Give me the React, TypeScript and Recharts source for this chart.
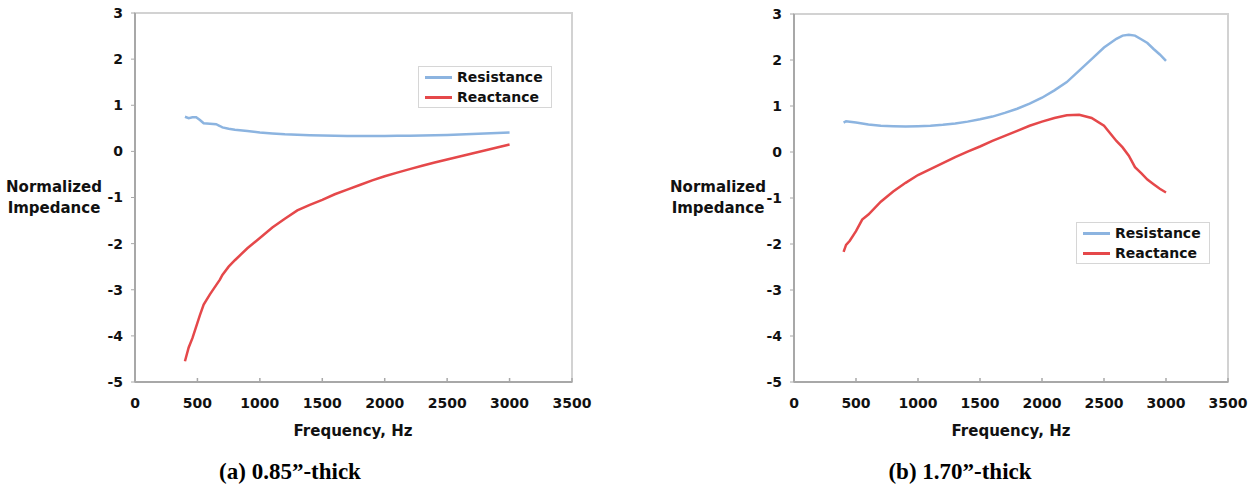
import React from "react";
import { LineChart, Line, XAxis, YAxis, Legend, ReferenceArea } from "recharts";

// (a) 0.85"-thick sample
const freqA = [400, 430, 460, 490, 520, 550, 600, 650, 680, 700, 750, 800, 900, 1000, 1100, 1200, 1300, 1400, 1500, 1600, 1700, 1800, 1900, 2000, 2100, 2200, 2300, 2400, 2500, 2600, 2700, 2800, 2900, 3000];
const resistanceA = [0.75, 0.72, 0.74, 0.74, 0.68, 0.61, 0.6, 0.59, 0.55, 0.52, 0.49, 0.47, 0.44, 0.41, 0.39, 0.37, 0.36, 0.35, 0.345, 0.34, 0.335, 0.335, 0.335, 0.335, 0.337, 0.34, 0.345, 0.35, 0.357, 0.365, 0.375, 0.385, 0.397, 0.41];
const reactanceA = [-4.55, -4.25, -4.05, -3.8, -3.55, -3.32, -3.1, -2.9, -2.78, -2.68, -2.5, -2.36, -2.1, -1.88, -1.65, -1.46, -1.28, -1.16, -1.05, -0.93, -0.83, -0.73, -0.63, -0.54, -0.46, -0.385, -0.31, -0.24, -0.175, -0.11, -0.045, 0.02, 0.085, 0.15];

// (b) 1.70"-thick sample
const freqB = [400, 420, 450, 500, 550, 600, 700, 800, 900, 1000, 1100, 1200, 1300, 1400, 1500, 1600, 1700, 1800, 1900, 2000, 2100, 2200, 2300, 2400, 2500, 2600, 2650, 2700, 2750, 2800, 2850, 2900, 2950, 3000];
const resistanceB = [0.64, 0.67, 0.66, 0.64, 0.62, 0.6, 0.57, 0.56, 0.555, 0.56, 0.57, 0.59, 0.62, 0.66, 0.71, 0.77, 0.85, 0.94, 1.05, 1.18, 1.34, 1.52, 1.77, 2.02, 2.27, 2.46, 2.53, 2.55, 2.53, 2.45, 2.37, 2.24, 2.12, 1.98];
const reactanceB = [-2.17, -2.02, -1.93, -1.72, -1.47, -1.36, -1.08, -0.86, -0.67, -0.5, -0.37, -0.24, -0.11, 0.01, 0.12, 0.24, 0.35, 0.46, 0.57, 0.66, 0.74, 0.8, 0.81, 0.74, 0.57, 0.24, 0.1, -0.08, -0.33, -0.46, -0.6, -0.7, -0.8, -0.88];

const xTicks = [0, 500, 1000, 1500, 2000, 2500, 3000, 3500];
const yTicks = [-5, -4, -3, -2, -1, 0, 1, 2, 3];
const seriesNames = ["Resistance", "Reactance"];
const captions = ["(a) 0.85\u201d-thick", "(b) 1.70\u201d-thick"];
const yTitle = ["Normalized", "Impedance"];
const xTitle = "Frequency, Hz";

const BLUE = "#8cb4e0";
const RED = "#e5484a";
const AXIS = "#a8a8a8";
const FONT = "'DejaVu Sans', Verdana, sans-serif";

function toRows(freq: number[], res: number[], rea: number[]) {
  return freq.map((f, i) => ({ f, resistance: res[i], reactance: rea[i] }));
}

function XTick({ x, y, payload }: any) {
  // Excel-style: tick mark points into the plot, label below
  return (
    <g>
      <line x1={x} y1={y} x2={x} y2={y - 4} stroke={AXIS} strokeWidth={1.5} />
      <text x={x} y={y + 26} textAnchor="middle" fontFamily={FONT} fontWeight="bold" fontSize={14} fill="#111">
        {payload.value}
      </text>
    </g>
  );
}

function LegendBox() {
  const colors = [BLUE, RED];
  return (
    <div
      style={{
        width: 134,
        height: 42,
        boxSizing: "border-box",
        border: "1px solid #d6d6d6",
        background: "#fff",
        fontFamily: FONT,
        fontWeight: "bold",
        fontSize: 14,
        color: "#111",
      }}
    >
      {seriesNames.map((name, i) => (
        <div key={name} style={{ display: "flex", alignItems: "center", height: 20 }}>
          <span style={{ display: "inline-block", marginLeft: 6, width: 27, height: 3, background: colors[i] }} />
          <span style={{ marginLeft: 5, lineHeight: "20px" }}>{name}</span>
        </div>
      ))}
    </div>
  );
}

function ImpedancePanel({
  rows,
  width,
  margin,
  legendPos,
}: {
  rows: { f: number; resistance: number; reactance: number }[];
  width: number;
  margin: { top: number; right: number; bottom: number; left: number };
  legendPos: { left: number; top: number };
}) {
  return (
    <LineChart width={width} height={420} data={rows} margin={margin}>
      <ReferenceArea x1={0} x2={3500} y1={-5} y2={3} fill="none" fillOpacity={0} stroke="#d2d2d2" strokeWidth={2} />
      <XAxis
        type="number"
        dataKey="f"
        domain={[0, 3500]}
        ticks={xTicks}
        height={30}
        tickSize={0}
        tickMargin={0}
        tickLine={false}
        axisLine={{ stroke: AXIS, strokeWidth: 2 }}
        tick={<XTick />}
        interval={0}
      />
      <YAxis
        type="number"
        domain={[-5, 3]}
        ticks={yTicks}
        width={40}
        tickSize={4}
        tickMargin={8}
        interval={0}
        axisLine={{ stroke: AXIS, strokeWidth: 2 }}
        tickLine={{ stroke: AXIS }}
        tick={{ fill: "#111", fontSize: 14, fontWeight: "bold", fontFamily: FONT }}
      />
      <Legend
        layout="horizontal"
        verticalAlign="middle"
        align="center"
        content={() => <LegendBox />}
        wrapperStyle={{ left: legendPos.left, top: legendPos.top, width: "auto", height: "auto" }}
      />
      <Line
        type="linear"
        dataKey="resistance"
        name={seriesNames[0]}
        stroke={BLUE}
        strokeWidth={2.5}
        dot={false}
        isAnimationActive={false}
      />
      <Line
        type="linear"
        dataKey="reactance"
        name={seriesNames[1]}
        stroke={RED}
        strokeWidth={2.5}
        dot={false}
        isAnimationActive={false}
      />
    </LineChart>
  );
}

const titleStyle: React.CSSProperties = {
  position: "absolute",
  fontFamily: FONT,
  fontWeight: "bold",
  fontSize: 15,
  color: "#111",
  textAlign: "center",
};

const captionStyle: React.CSSProperties = {
  position: "absolute",
  fontFamily: "'Liberation Serif', 'Times New Roman', serif",
  fontWeight: "bold",
  fontSize: 23,
  lineHeight: "26px",
  color: "#000",
  textAlign: "center",
  width: 260,
  top: 459,
};

export default function App() {
  return (
    <div style={{ position: "absolute", left: 0, top: 0, width: 1257, height: 484, background: "#fff" }}>
      <div style={{ position: "absolute", left: 0, top: 0 }}>
        <ImpedancePanel
          rows={toRows(freqA, resistanceA, reactanceA)}
          width={620}
          margin={{ top: 13, right: 48, bottom: 8, left: 95 }}
          legendPos={{ left: 418, top: 66 }}
        />
      </div>
      <div style={{ position: "absolute", left: 640, top: 0 }}>
        <ImpedancePanel
          rows={toRows(freqB, resistanceB, reactanceB)}
          width={617}
          margin={{ top: 14, right: 29, bottom: 8, left: 114 }}
          legendPos={{ left: 436, top: 222 }}
        />
      </div>

      <div style={{ ...titleStyle, left: 4, top: 177, width: 100, lineHeight: "21px" }}>
        {yTitle[0]}
        <br />
        {yTitle[1]}
      </div>
      <div style={{ ...titleStyle, left: 668, top: 177, width: 100, lineHeight: "21px" }}>
        {yTitle[0]}
        <br />
        {yTitle[1]}
      </div>

      <div style={{ ...titleStyle, left: 253, top: 422, width: 200, lineHeight: "18px" }}>{xTitle}</div>
      <div style={{ ...titleStyle, left: 911, top: 422, width: 200, lineHeight: "18px" }}>{xTitle}</div>

      <div style={{ ...captionStyle, left: 160 }}>{captions[0]}</div>
      <div style={{ ...captionStyle, left: 830 }}>{captions[1]}</div>
    </div>
  );
}
